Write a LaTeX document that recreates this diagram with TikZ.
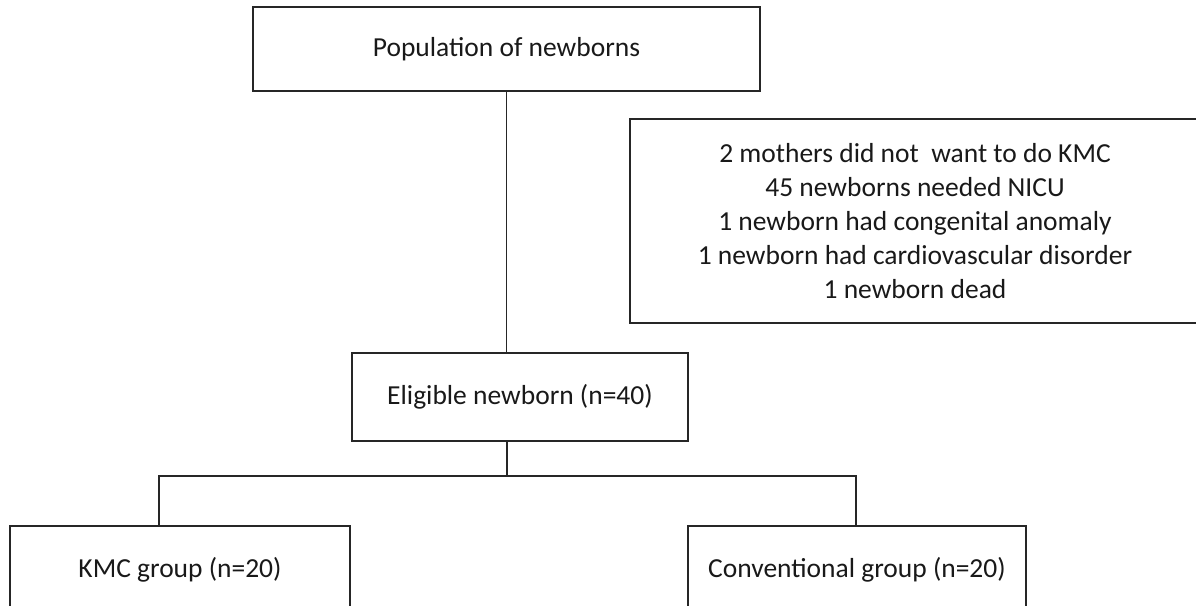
\documentclass[tikz,border=0pt]{standalone}
\usepackage{fontspec}
\setmainfont{Carlito}
\begin{document}
\begin{tikzpicture}[x=1pt,y=-1pt,
  box/.style={draw=black!85, line width=1.4pt, rectangle, inner sep=0pt, align=center,
    text=black!90, font=\fontsize{27.5}{34}\selectfont},
  conn/.style={draw=black!85, line width=1.4pt}]
\useasboundingbox (0,0) rectangle (1196,605);
\clip (0,0) rectangle (1196,605);
\fill[white] (0,0) rectangle (1196,605);
\node[box, minimum width=507pt, minimum height=84pt] (top) at (506.5,49) {Population of newborns};
\node[box, minimum width=570pt, minimum height=204pt] (excl) at (915,221)
  {2 mothers did not~ want to do KMC\\45 newborns needed NICU\\1 newborn had congenital anomaly\\1 newborn had cardiovascular disorder\\1 newborn dead};
\node[box, minimum width=336pt, minimum height=88pt] (elig) at (520,397) {Eligible newborn (n=40)};
\node[box, minimum width=340pt, minimum height=88pt] (kmc) at (180,570) {KMC group (n=20)};
\node[box, minimum width=338pt, minimum height=88pt] (conv) at (857,570) {Conventional group (n=20)};
\coordinate (bus) at (507,476);
\coordinate (busL) at (159,476);
\coordinate (busR) at (856,476);
\draw[conn] (top.south) -- (top.south |- elig.north);
\draw[conn] (bus |- elig.south) -- (bus);
\draw[conn] (kmc.north -| busL) -- (busL) -- (busR) -- (conv.north -| busR);
\end{tikzpicture}
\end{document}
